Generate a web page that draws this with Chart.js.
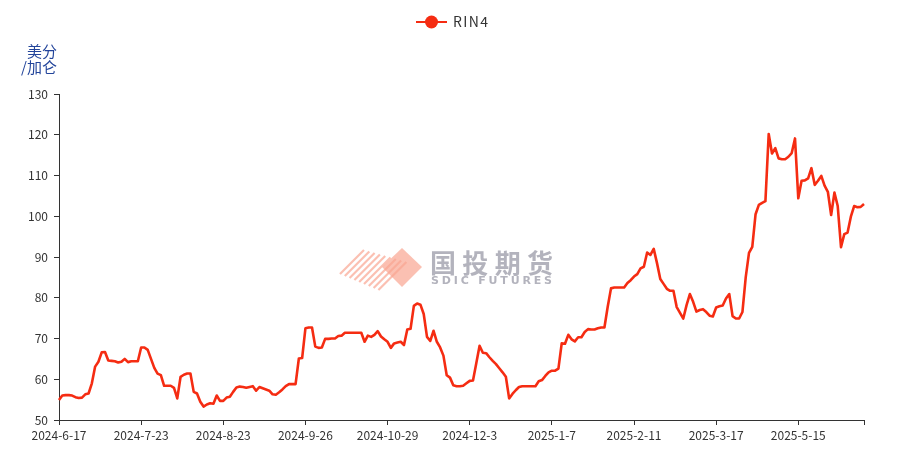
<!DOCTYPE html>
<html>
<head>
<meta charset="utf-8">
<script src="https://cdn.jsdelivr.net/npm/chart.js@4"></script>
<style>
  html, body { margin: 0; padding: 0; background: #fff; }
</style>
</head>
<body>
<canvas id="chart" width="900" height="455"></canvas>
<script>
const seriesName = "RIN4";
const unitLines = ["美分", "/加仑"];
const tickLabels = ["2024-6-17", "2024-7-23", "2024-8-23", "2024-9-26", "2024-10-29",
  "2024-12-3", "2025-1-7", "2025-2-11", "2025-3-17", "2025-5-15"];
const tickEvery = 25;
const yMin = 50, yMax = 130, yStep = 10;

// RIN4 price, one value per trading day
const rin4 = [
  54.9, 56.0, 56.1, 56.1, 56.0, 55.6, 55.4, 55.5, 56.3, 56.5,
  59.0, 63.1, 64.3, 66.6, 66.7, 64.6, 64.5, 64.4, 64.1, 64.3,
  65.0, 64.2, 64.4, 64.4, 64.4, 67.8, 67.8, 67.2, 65.0, 62.8,
  61.4, 61.0, 58.4, 58.4, 58.4, 57.9, 55.3, 60.6, 61.1, 61.4,
  61.4, 56.9, 56.5, 54.5, 53.3, 53.8, 54.1, 54.0, 56.0, 54.7,
  54.7, 55.5, 55.7, 56.9, 58.0, 58.2, 58.1, 57.9, 58.1, 58.3,
  57.2, 58.1, 57.8, 57.5, 57.2, 56.3, 56.2, 56.8, 57.5, 58.3,
  58.8, 58.8, 58.8, 65.1, 65.2, 72.5, 72.7, 72.7, 68.0, 67.7,
  67.8, 69.9, 69.9, 70.0, 70.0, 70.6, 70.7, 71.4, 71.4, 71.4,
  71.4, 71.4, 71.4, 69.2, 70.7, 70.4, 70.9, 71.8, 70.5, 69.8,
  69.2, 67.7, 68.8, 69.0, 69.2, 68.4, 72.2, 72.4, 78.0, 78.6,
  78.3, 76.0, 70.4, 69.4, 71.9, 69.2, 67.8, 65.8, 61.0, 60.4,
  58.5, 58.3, 58.3, 58.4, 59.0, 59.6, 59.7, 63.9, 68.2, 66.5,
  66.4, 65.4, 64.5, 63.7, 62.7, 61.7, 60.6, 55.3, 56.4, 57.3,
  58.1, 58.3, 58.3, 58.3, 58.3, 58.3, 59.5, 59.8, 60.8, 61.7,
  62.1, 62.1, 62.6, 68.8, 68.7, 70.9, 69.8, 69.3, 70.3, 70.3,
  71.6, 72.3, 72.2, 72.2, 72.5, 72.7, 72.7, 77.8, 82.3, 82.5,
  82.5, 82.5, 82.5, 83.6, 84.3, 85.2, 85.8, 87.2, 87.6, 91.1,
  90.5, 92.0, 88.5, 84.6, 83.4, 82.2, 81.7, 81.7, 77.7, 76.3,
  74.9, 78.2, 80.9, 79.0, 76.6, 77.0, 77.2, 76.5, 75.6, 75.4,
  77.6, 77.9, 78.1, 79.8, 80.9, 75.5, 74.9, 74.9, 76.5, 85.0,
  91.0, 92.5, 100.5, 102.8, 103.3, 103.7, 120.2, 115.4, 116.7, 114.2,
  114.0, 114.0, 114.6, 115.5, 119.1, 104.4, 108.7, 108.8, 109.3, 111.8,
  107.7, 108.7, 109.9, 107.5, 106.0, 100.3, 105.8, 102.5, 92.4, 95.6,
  96.0, 99.9, 102.5, 102.2, 102.3, 103.0
];

const lineColor = "#f52c12";
const axisColor = "#333";
const font = "'Noto Sans CJK SC', 'Liberation Sans', sans-serif";

// spread characters evenly between x0 and x1
function spreadText(c, text, x0, x1, y) {
  const chars = text.split("");
  const widths = chars.map(ch => c.measureText(ch).width);
  const total = widths.reduce((a, b) => a + b, 0);
  const gap = (x1 - x0 - total) / (chars.length - 1);
  let x = x0;
  chars.forEach((ch, i) => {
    c.fillText(ch, x, y);
    x += widths[i] + gap;
  });
}

const decor = {
  id: "decor",
  beforeDatasetsDraw(chart) {
    const c = chart.ctx;
    c.save();
    // watermark logo
    const pink = "rgba(249,165,145,0.7)";
    c.fillStyle = pink;
    c.strokeStyle = pink;
    c.lineWidth = 2.2;
    c.beginPath();
    for (let k = 0; k < 9; k++) {
      const sx = 340 + k * 4.8, sy = 274 + k * 2;
      const ey = 250 + k * 1.5;
      const d = sy - ey;
      c.moveTo(sx, sy);
      c.lineTo(sx + d, ey);
    }
    c.stroke();
    c.beginPath();
    c.moveTo(382, 267); c.lineTo(402, 248); c.lineTo(422, 267); c.lineTo(402, 287);
    c.closePath();
    c.fill();
    c.fillStyle = "rgba(160,160,172,0.8)";
    c.textBaseline = "middle";
    c.textAlign = "left";
    c.font = "bold 26px " + font;
    spreadText(c, "国投期货", 430, 553, 263);
    c.font = "bold 11px 'DejaVu Sans', sans-serif";
    spreadText(c, "SDIC FUTURES", 431, 552, 281.5);
    c.restore();
  },
  afterDraw(chart) {
    const c = chart.ctx;
    c.save();
    // legend
    c.strokeStyle = lineColor;
    c.lineWidth = 2;
    c.beginPath();
    c.moveTo(416, 22); c.lineTo(447, 22);
    c.stroke();
    c.fillStyle = lineColor;
    c.beginPath();
    c.arc(431.5, 22, 6.5, 0, Math.PI * 2);
    c.fill();
    c.fillStyle = axisColor;
    c.font = "14px " + font;
    c.textBaseline = "middle";
    c.textAlign = "left";
    spreadText(c, seriesName, 453, 488, 22);
    // unit label
    c.fillStyle = "#22449a";
    c.font = "15px " + font;
    c.textAlign = "right";
    c.fillText(unitLines[0], 57, 51);
    c.fillText(unitLines[1], 57, 67);
    c.restore();
  }
};

const lastIndex = rin4.length - 1;

new Chart(document.getElementById("chart").getContext("2d"), {
  type: "line",
  data: {
    labels: rin4.map((v, i) => i),
    datasets: [{
      label: seriesName,
      data: rin4,
      borderColor: lineColor,
      backgroundColor: lineColor,
      borderWidth: 2.6,
      pointRadius: 0,
      tension: 0,
      borderJoinStyle: "round"
    }]
  },
  options: {
    responsive: false,
    animation: false,
    layout: { padding: { top: 94, right: 36, left: 0, bottom: 0 } },
    plugins: { legend: { display: false }, tooltip: { enabled: false } },
    scales: {
      x: {
        offset: false,
        afterFit(s) { s.height = 35; },
        border: { color: axisColor, width: 1 },
        grid: {
          drawOnChartArea: false,
          tickLength: 5,
          tickColor: ctx => (ctx.index % tickEvery === 0 || ctx.index === lastIndex) ? axisColor : "rgba(0,0,0,0)"
        },
        ticks: {
          autoSkip: false,
          maxRotation: 0,
          minRotation: 0,
          padding: 3,
          color: axisColor,
          font: { family: font, size: 12 },
          callback: (v, i) => i % tickEvery === 0 ? (tickLabels[i / tickEvery] || "") : ""
        }
      },
      y: {
        min: yMin,
        max: yMax,
        afterFit(s) { s.width = 59; },
        border: { color: axisColor, width: 1 },
        grid: { drawOnChartArea: false, tickLength: 5, tickColor: axisColor },
        ticks: {
          stepSize: yStep,
          padding: 6,
          color: axisColor,
          font: { family: font, size: 12 }
        }
      }
    }
  },
  plugins: [decor]
});
</script>
</body>
</html>
